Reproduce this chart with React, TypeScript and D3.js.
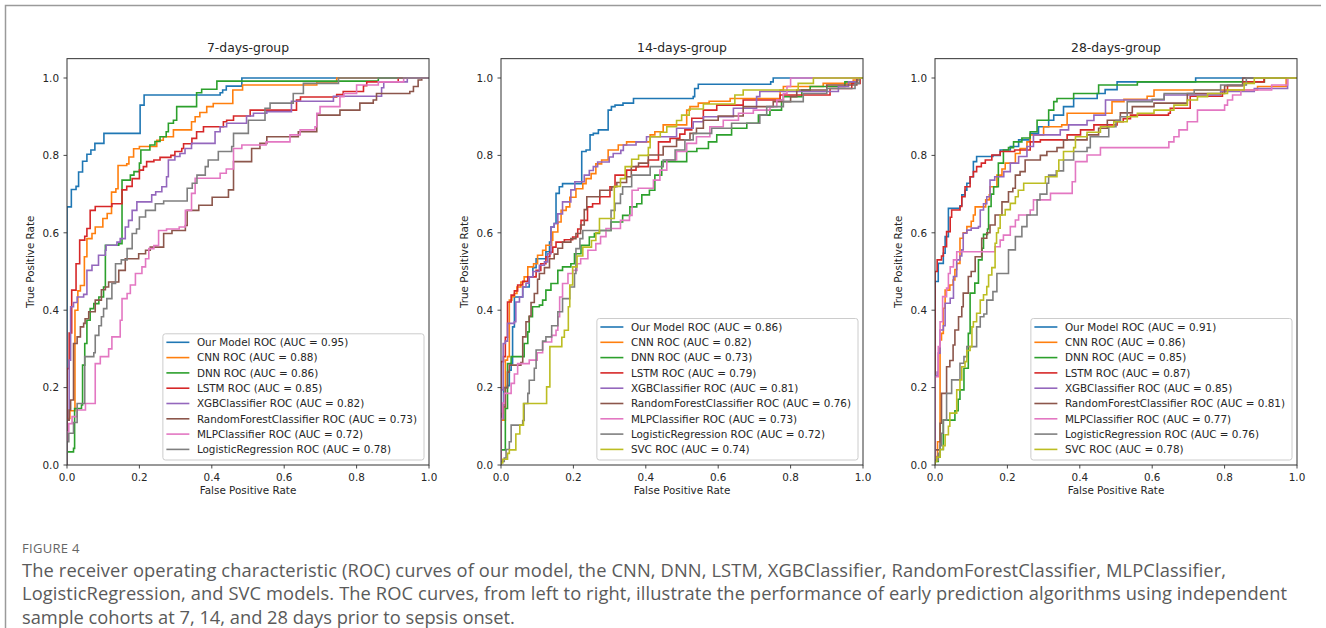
import React from 'react';
import * as d3 from 'd3';

type Pt = [number, number];

const groups = ['7-days-group', '14-days-group', '28-days-group'];
const models = ['Our Model', 'CNN', 'DNN', 'LSTM', 'XGBClassifier', 'RandomForestClassifier', 'MLPClassifier', 'LogisticRegression', 'SVC'];
const colors = ['#1f77b4', '#ff7f0e', '#2ca02c', '#d62728', '#9467bd', '#8c564b', '#e377c2', '#7f7f7f', '#bcbd22'];
const auc7 = [0.95, 0.88, 0.86, 0.85, 0.82, 0.73, 0.72, 0.78];
const auc14 = [0.86, 0.82, 0.73, 0.79, 0.81, 0.76, 0.73, 0.72, 0.74];
const auc28 = [0.91, 0.86, 0.85, 0.87, 0.85, 0.81, 0.77, 0.76, 0.78];
const tickValues = [0, 0.2, 0.4, 0.6, 0.8, 1.0];

// [fpr, tpr] corners, 7 days
const ours7: Pt[] = [[0,0],[0,0.667],[0.012,0.712],[0.025,0.72],[0.032,0.757],[0.043,0.785],[0.055,0.803],[0.066,0.814],[0.077,0.831],[0.102,0.857],[0.202,0.93],[0.213,0.956],[0.423,0.962],[0.43,0.969],[0.44,0.979],[0.483,1],[1,1]];
const cnn7: Pt[] = [[0,0],[0,0.12],[0.008,0.14],[0.022,0.4],[0.03,0.45],[0.037,0.464],[0.048,0.538],[0.055,0.585],[0.069,0.598],[0.078,0.615],[0.099,0.637],[0.111,0.65],[0.123,0.705],[0.135,0.714],[0.141,0.774],[0.165,0.778],[0.171,0.796],[0.184,0.817],[0.2,0.823],[0.248,0.839],[0.266,0.848],[0.294,0.866],[0.344,0.887],[0.354,0.9],[0.367,0.911],[0.386,0.926],[0.404,0.934],[0.458,0.969],[0.485,0.982],[0.69,0.99],[0.745,1],[1,1]];
const dnn7: Pt[] = [[0,0],[0,0.034],[0.018,0.043],[0.021,0.146],[0.04,0.155],[0.043,0.258],[0.049,0.314],[0.055,0.374],[0.064,0.404],[0.074,0.417],[0.088,0.434],[0.101,0.46],[0.106,0.568],[0.143,0.572],[0.152,0.736],[0.175,0.749],[0.185,0.758],[0.2,0.78],[0.204,0.814],[0.229,0.827],[0.243,0.836],[0.257,0.848],[0.274,0.861],[0.28,0.883],[0.294,0.891],[0.303,0.926],[0.358,0.962],[0.372,0.971],[0.414,0.992],[0.86,1],[1,1]];
const lstm7: Pt[] = [[0,0],[0,0.249],[0.006,0.341],[0.013,0.452],[0.025,0.52],[0.035,0.581],[0.049,0.591],[0.055,0.611],[0.064,0.658],[0.078,0.668],[0.124,0.675],[0.152,0.711],[0.165,0.72],[0.18,0.74],[0.2,0.762],[0.211,0.771],[0.22,0.784],[0.24,0.788],[0.257,0.795],[0.287,0.8],[0.298,0.81],[0.317,0.818],[0.322,0.83],[0.345,0.844],[0.358,0.861],[0.377,0.874],[0.432,0.887],[0.441,0.891],[0.46,0.902],[0.506,0.917],[0.634,0.943],[0.645,0.951],[0.745,0.957],[0.763,0.965],[0.819,0.98],[0.828,0.99],[0.915,1],[1,1]];
const xgb7: Pt[] = [[0,0],[0,0.116],[0.006,0.271],[0.01,0.409],[0.018,0.42],[0.028,0.434],[0.046,0.441],[0.055,0.503],[0.069,0.516],[0.087,0.542],[0.106,0.555],[0.108,0.568],[0.138,0.576],[0.147,0.585],[0.161,0.615],[0.17,0.632],[0.18,0.658],[0.193,0.68],[0.234,0.698],[0.245,0.706],[0.262,0.719],[0.275,0.745],[0.28,0.788],[0.298,0.797],[0.312,0.805],[0.326,0.818],[0.344,0.831],[0.409,0.861],[0.423,0.874],[0.441,0.883],[0.496,0.902],[0.515,0.909],[0.552,0.913],[0.62,0.94],[0.736,0.953],[0.869,0.975],[0.875,0.99],[0.94,1],[1,1]];
const rf7: Pt[] = [[0,0],[0,0.116],[0.006,0.142],[0.01,0.168],[0.018,0.314],[0.028,0.331],[0.037,0.357],[0.046,0.366],[0.05,0.378],[0.06,0.396],[0.078,0.426],[0.095,0.453],[0.106,0.46],[0.115,0.473],[0.143,0.503],[0.161,0.533],[0.198,0.546],[0.217,0.555],[0.23,0.563],[0.267,0.598],[0.29,0.606],[0.327,0.619],[0.332,0.658],[0.364,0.671],[0.401,0.692],[0.446,0.711],[0.46,0.784],[0.51,0.818],[0.533,0.831],[0.552,0.848],[0.639,0.861],[0.69,0.904],[0.754,0.917],[0.809,0.935],[0.846,0.943],[0.855,0.96],[0.947,0.965],[0.957,0.978],[0.97,0.995],[0.98,1],[1,1]];
const mlp7: Pt[] = [[0,0],[0,0.086],[0.005,0.107],[0.014,0.125],[0.028,0.142],[0.051,0.159],[0.078,0.262],[0.092,0.28],[0.115,0.3],[0.124,0.331],[0.147,0.374],[0.152,0.43],[0.166,0.443],[0.175,0.465],[0.189,0.495],[0.207,0.512],[0.217,0.533],[0.226,0.559],[0.24,0.567],[0.253,0.606],[0.275,0.61],[0.31,0.615],[0.327,0.658],[0.344,0.702],[0.354,0.741],[0.423,0.754],[0.44,0.765],[0.46,0.818],[0.483,0.827],[0.55,0.835],[0.616,0.853],[0.644,0.866],[0.685,0.874],[0.69,0.909],[0.699,0.926],[0.754,0.952],[0.765,0.96],[0.8,0.982],[0.86,0.99],[0.93,1],[1,1]];
const lr7: Pt[] = [[0,0],[0,0.06],[0.005,0.082],[0.018,0.11],[0.028,0.159],[0.049,0.28],[0.074,0.29],[0.078,0.335],[0.088,0.36],[0.095,0.383],[0.101,0.404],[0.11,0.43],[0.124,0.469],[0.134,0.52],[0.15,0.53],[0.166,0.559],[0.18,0.598],[0.192,0.61],[0.2,0.641],[0.217,0.658],[0.244,0.675],[0.267,0.682],[0.332,0.715],[0.346,0.728],[0.359,0.749],[0.382,0.771],[0.39,0.788],[0.418,0.81],[0.455,0.823],[0.46,0.857],[0.501,0.891],[0.547,0.922],[0.561,0.935],[0.625,0.96],[0.653,0.986],[0.75,1],[1,1]];

// 14 days
const ours14: Pt[] = [[0,0],[0,0.116],[0.007,0.2],[0.018,0.205],[0.023,0.245],[0.028,0.262],[0.032,0.357],[0.037,0.434],[0.06,0.46],[0.078,0.486],[0.088,0.51],[0.097,0.533],[0.124,0.551],[0.134,0.576],[0.138,0.615],[0.147,0.624],[0.152,0.702],[0.161,0.719],[0.17,0.727],[0.223,0.81],[0.235,0.814],[0.246,0.853],[0.255,0.857],[0.269,0.866],[0.296,0.917],[0.305,0.926],[0.315,0.93],[0.337,0.935],[0.366,0.947],[0.531,0.952],[0.535,0.973],[0.545,0.984],[0.745,0.99],[0.752,1],[1,1]];
const cnn14: Pt[] = [[0,0],[0,0.116],[0.012,0.271],[0.018,0.28],[0.023,0.426],[0.03,0.435],[0.037,0.443],[0.044,0.46],[0.055,0.473],[0.064,0.486],[0.074,0.512],[0.09,0.52],[0.101,0.542],[0.115,0.555],[0.124,0.568],[0.14,0.581],[0.143,0.602],[0.157,0.628],[0.166,0.658],[0.18,0.667],[0.19,0.692],[0.207,0.714],[0.226,0.727],[0.235,0.74],[0.249,0.753],[0.262,0.778],[0.278,0.788],[0.296,0.814],[0.324,0.827],[0.347,0.835],[0.412,0.853],[0.425,0.861],[0.448,0.879],[0.513,0.917],[0.522,0.926],[0.545,0.935],[0.575,0.94],[0.633,0.947],[0.771,0.969],[0.78,0.978],[0.89,0.986],[0.973,0.995],[0.99,1],[1,1]];
const dnn14: Pt[] = [[0,0],[0,0.039],[0.012,0.146],[0.018,0.262],[0.028,0.28],[0.064,0.314],[0.074,0.344],[0.078,0.383],[0.087,0.409],[0.106,0.413],[0.115,0.426],[0.124,0.452],[0.138,0.469],[0.157,0.503],[0.17,0.512],[0.193,0.52],[0.203,0.546],[0.221,0.568],[0.244,0.589],[0.258,0.598],[0.272,0.606],[0.304,0.628],[0.336,0.645],[0.356,0.667],[0.375,0.675],[0.389,0.698],[0.41,0.71],[0.425,0.749],[0.444,0.784],[0.513,0.81],[0.541,0.818],[0.573,0.835],[0.596,0.853],[0.637,0.87],[0.679,0.883],[0.711,0.904],[0.743,0.917],[0.775,0.943],[0.78,0.952],[0.831,0.969],[0.854,0.978],[0.95,0.99],[0.983,1],[1,1]];
const lstm14: Pt[] = [[0,0],[0,0.267],[0.007,0.28],[0.012,0.33],[0.018,0.421],[0.028,0.439],[0.037,0.45],[0.046,0.465],[0.06,0.475],[0.074,0.486],[0.097,0.503],[0.11,0.52],[0.124,0.538],[0.135,0.55],[0.143,0.563],[0.152,0.576],[0.175,0.582],[0.198,0.589],[0.212,0.61],[0.221,0.632],[0.239,0.667],[0.253,0.675],[0.273,0.693],[0.301,0.719],[0.315,0.749],[0.347,0.762],[0.373,0.771],[0.407,0.788],[0.435,0.835],[0.467,0.844],[0.494,0.855],[0.508,0.866],[0.527,0.896],[0.559,0.917],[0.596,0.93],[0.669,0.943],[0.771,0.956],[0.909,0.973],[0.969,0.986],[0.992,1],[1,1]];
const xgb14: Pt[] = [[0,0],[0,0.194],[0.006,0.314],[0.012,0.32],[0.018,0.366],[0.037,0.37],[0.041,0.421],[0.051,0.434],[0.06,0.46],[0.069,0.47],[0.078,0.486],[0.088,0.5],[0.106,0.516],[0.12,0.525],[0.129,0.546],[0.138,0.615],[0.147,0.624],[0.157,0.649],[0.17,0.68],[0.193,0.711],[0.204,0.732],[0.23,0.749],[0.244,0.761],[0.255,0.771],[0.267,0.783],[0.299,0.796],[0.31,0.805],[0.331,0.813],[0.338,0.827],[0.373,0.835],[0.402,0.848],[0.485,0.87],[0.531,0.887],[0.559,0.9],[0.642,0.922],[0.706,0.952],[0.715,0.965],[0.932,0.978],[0.96,0.99],[0.983,1],[1,1]];
const rf14: Pt[] = [[0,0],[0,0.133],[0.006,0.15],[0.012,0.2],[0.018,0.24],[0.023,0.258],[0.055,0.265],[0.06,0.331],[0.069,0.37],[0.078,0.385],[0.083,0.42],[0.092,0.443],[0.101,0.48],[0.106,0.495],[0.12,0.51],[0.134,0.533],[0.147,0.545],[0.157,0.56],[0.17,0.576],[0.193,0.585],[0.207,0.598],[0.22,0.62],[0.23,0.66],[0.237,0.693],[0.273,0.71],[0.306,0.719],[0.32,0.73],[0.347,0.745],[0.36,0.771],[0.38,0.78],[0.407,0.801],[0.448,0.823],[0.485,0.84],[0.522,0.857],[0.54,0.87],[0.559,0.891],[0.6,0.902],[0.669,0.926],[0.752,0.939],[0.8,0.952],[0.817,0.969],[0.9,0.982],[0.983,1],[1,1]];
const mlp14: Pt[] = [[0,0],[0,0.12],[0.005,0.16],[0.009,0.185],[0.028,0.211],[0.037,0.235],[0.046,0.262],[0.078,0.271],[0.1,0.29],[0.115,0.318],[0.14,0.335],[0.152,0.348],[0.157,0.383],[0.162,0.434],[0.17,0.469],[0.185,0.495],[0.198,0.503],[0.21,0.52],[0.22,0.533],[0.24,0.555],[0.262,0.572],[0.275,0.59],[0.29,0.611],[0.33,0.632],[0.355,0.645],[0.362,0.71],[0.379,0.715],[0.421,0.736],[0.439,0.762],[0.458,0.788],[0.485,0.81],[0.513,0.831],[0.54,0.848],[0.577,0.874],[0.614,0.891],[0.656,0.909],[0.697,0.917],[0.743,0.926],[0.762,0.943],[0.78,0.96],[0.79,0.978],[0.8,1],[1,1]];
const lr14: Pt[] = [[0,0],[0,0.009],[0.009,0.018],[0.014,0.04],[0.023,0.06],[0.028,0.103],[0.06,0.115],[0.064,0.159],[0.074,0.185],[0.078,0.219],[0.092,0.25],[0.097,0.297],[0.115,0.32],[0.124,0.331],[0.14,0.36],[0.157,0.396],[0.17,0.43],[0.19,0.46],[0.203,0.495],[0.207,0.559],[0.218,0.585],[0.226,0.606],[0.304,0.658],[0.315,0.676],[0.33,0.7],[0.336,0.719],[0.361,0.749],[0.412,0.771],[0.448,0.788],[0.481,0.814],[0.508,0.84],[0.531,0.857],[0.582,0.87],[0.637,0.883],[0.715,0.904],[0.734,0.926],[0.78,0.939],[0.835,0.96],[0.9,0.973],[0.978,0.986],[0.99,1],[1,1]];
const svc14: Pt[] = [[0,0],[0,0.005],[0.005,0.015],[0.018,0.03],[0.023,0.039],[0.041,0.08],[0.052,0.103],[0.062,0.159],[0.126,0.202],[0.135,0.306],[0.168,0.33],[0.175,0.348],[0.186,0.409],[0.19,0.465],[0.198,0.512],[0.21,0.54],[0.226,0.563],[0.25,0.58],[0.262,0.6],[0.272,0.637],[0.313,0.72],[0.33,0.74],[0.343,0.771],[0.361,0.79],[0.38,0.8],[0.407,0.82],[0.412,0.848],[0.44,0.86],[0.458,0.874],[0.485,0.89],[0.499,0.904],[0.52,0.92],[0.559,0.933],[0.646,0.956],[0.669,0.969],[0.821,0.986],[0.863,1],[1,1]];

// 28 days
const ours28: Pt[] = [[0,0],[0,0.474],[0.009,0.521],[0.023,0.547],[0.028,0.59],[0.037,0.663],[0.069,0.67],[0.074,0.698],[0.083,0.71],[0.088,0.728],[0.097,0.745],[0.106,0.784],[0.115,0.797],[0.16,0.8],[0.18,0.814],[0.208,0.823],[0.231,0.84],[0.263,0.857],[0.286,0.874],[0.314,0.891],[0.328,0.904],[0.355,0.926],[0.383,0.947],[0.448,0.96],[0.47,0.97],[0.503,0.99],[0.72,1],[1,1]];
const cnn28: Pt[] = [[0,0],[0,0.022],[0.007,0.06],[0.014,0.323],[0.018,0.34],[0.023,0.405],[0.028,0.452],[0.041,0.465],[0.05,0.478],[0.055,0.505],[0.06,0.521],[0.069,0.586],[0.078,0.6],[0.088,0.616],[0.1,0.63],[0.106,0.646],[0.111,0.667],[0.14,0.685],[0.15,0.698],[0.152,0.719],[0.171,0.749],[0.185,0.765],[0.194,0.78],[0.222,0.805],[0.235,0.818],[0.254,0.835],[0.263,0.853],[0.3,0.874],[0.35,0.879],[0.365,0.909],[0.489,0.939],[0.522,0.945],[0.586,0.953],[0.605,0.969],[0.891,0.978],[0.97,1],[1,1]];
const dnn28: Pt[] = [[0,0],[0,0.009],[0.009,0.02],[0.014,0.04],[0.023,0.116],[0.055,0.14],[0.064,0.17],[0.069,0.194],[0.08,0.25],[0.092,0.34],[0.097,0.444],[0.11,0.47],[0.12,0.53],[0.13,0.56],[0.134,0.596],[0.145,0.61],[0.148,0.668],[0.155,0.7],[0.162,0.719],[0.175,0.78],[0.189,0.814],[0.203,0.82],[0.217,0.835],[0.24,0.845],[0.263,0.861],[0.282,0.891],[0.314,0.917],[0.328,0.939],[0.337,0.947],[0.383,0.96],[0.452,0.982],[0.559,0.99],[0.91,1],[1,1]];
const lstm28: Pt[] = [[0,0],[0,0.5],[0.006,0.53],[0.018,0.54],[0.023,0.564],[0.032,0.603],[0.042,0.64],[0.046,0.659],[0.069,0.668],[0.074,0.693],[0.083,0.719],[0.097,0.745],[0.106,0.758],[0.115,0.771],[0.128,0.78],[0.139,0.788],[0.157,0.801],[0.18,0.81],[0.22,0.814],[0.263,0.835],[0.291,0.84],[0.365,0.853],[0.402,0.866],[0.439,0.879],[0.503,0.887],[0.52,0.895],[0.54,0.904],[0.645,0.909],[0.65,0.922],[0.705,0.953],[0.794,0.965],[0.808,0.981],[0.85,0.99],[0.909,1],[1,1]];
const xgb28: Pt[] = [[0,0],[0,0.23],[0.006,0.24],[0.009,0.289],[0.014,0.349],[0.023,0.36],[0.028,0.418],[0.042,0.431],[0.051,0.487],[0.06,0.53],[0.069,0.54],[0.074,0.556],[0.078,0.599],[0.088,0.607],[0.1,0.612],[0.12,0.616],[0.125,0.659],[0.134,0.675],[0.143,0.693],[0.152,0.736],[0.165,0.745],[0.19,0.758],[0.208,0.78],[0.231,0.797],[0.254,0.823],[0.272,0.853],[0.346,0.866],[0.369,0.879],[0.42,0.89],[0.439,0.904],[0.471,0.943],[0.633,0.956],[0.789,0.965],[0.882,0.973],[0.974,1],[1,1]];
const rf28: Pt[] = [[0,0],[0,0.039],[0.014,0.108],[0.018,0.185],[0.032,0.254],[0.041,0.27],[0.05,0.31],[0.055,0.349],[0.065,0.383],[0.074,0.409],[0.078,0.444],[0.092,0.487],[0.1,0.5],[0.111,0.538],[0.129,0.586],[0.143,0.6],[0.152,0.62],[0.166,0.646],[0.185,0.68],[0.203,0.706],[0.215,0.715],[0.222,0.749],[0.235,0.758],[0.249,0.788],[0.291,0.8],[0.309,0.81],[0.337,0.82],[0.355,0.84],[0.42,0.853],[0.452,0.87],[0.476,0.891],[0.512,0.91],[0.545,0.926],[0.605,0.935],[0.697,0.96],[0.8,0.98],[0.85,1],[1,1]];
const mlp28: Pt[] = [[0,0],[0,0.228],[0.009,0.306],[0.014,0.37],[0.021,0.435],[0.032,0.457],[0.037,0.495],[0.042,0.512],[0.051,0.53],[0.06,0.551],[0.166,0.564],[0.18,0.581],[0.189,0.594],[0.208,0.616],[0.222,0.633],[0.231,0.646],[0.263,0.659],[0.272,0.685],[0.319,0.702],[0.379,0.732],[0.388,0.784],[0.42,0.801],[0.457,0.82],[0.646,0.835],[0.66,0.848],[0.674,0.866],[0.697,0.887],[0.725,0.917],[0.8,0.93],[0.808,0.943],[0.822,0.956],[0.845,0.969],[0.93,0.982],[0.974,1],[1,1]];
const lr28: Pt[] = [[0,0],[0,0.013],[0.009,0.03],[0.014,0.05],[0.018,0.082],[0.023,0.116],[0.032,0.185],[0.046,0.22],[0.069,0.263],[0.08,0.28],[0.088,0.306],[0.115,0.357],[0.125,0.383],[0.135,0.39],[0.143,0.426],[0.16,0.448],[0.171,0.495],[0.203,0.556],[0.222,0.59],[0.24,0.616],[0.254,0.646],[0.282,0.685],[0.29,0.7],[0.309,0.728],[0.314,0.749],[0.335,0.76],[0.355,0.788],[0.383,0.81],[0.42,0.82],[0.429,0.848],[0.48,0.874],[0.5,0.89],[0.512,0.9],[0.531,0.939],[0.6,0.945],[0.633,0.96],[0.716,0.969],[0.789,0.982],[0.86,1],[1,1]];
const svc28: Pt[] = [[0,0],[0,0.009],[0.005,0.02],[0.014,0.04],[0.023,0.05],[0.028,0.078],[0.037,0.1],[0.041,0.134],[0.06,0.194],[0.069,0.22],[0.074,0.254],[0.083,0.267],[0.088,0.296],[0.097,0.306],[0.102,0.357],[0.106,0.37],[0.115,0.392],[0.125,0.426],[0.134,0.44],[0.143,0.461],[0.148,0.491],[0.157,0.51],[0.166,0.573],[0.17,0.6],[0.175,0.612],[0.18,0.646],[0.194,0.66],[0.208,0.676],[0.222,0.693],[0.23,0.71],[0.245,0.728],[0.305,0.745],[0.337,0.76],[0.342,0.788],[0.355,0.81],[0.383,0.82],[0.388,0.848],[0.42,0.86],[0.457,0.874],[0.494,0.887],[0.531,0.9],[0.559,0.909],[0.605,0.917],[0.66,0.93],[0.697,0.943],[0.725,0.952],[0.753,0.96],[0.808,0.969],[0.854,0.986],[0.882,1],[1,1]];

const curves7 = [ours7, cnn7, dnn7, lstm7, xgb7, rf7, mlp7, lr7];
const curves14 = [ours14, cnn14, dnn14, lstm14, xgb14, rf14, mlp14, lr14, svc14];
const curves28 = [ours28, cnn28, dnn28, lstm28, xgb28, rf28, mlp28, lr28, svc28];

const figLabel = 'FIGURE 4';
const captionLines = [
  'The receiver operating characteristic (ROC) curves of our model, the CNN, DNN, LSTM, XGBClassifier, RandomForestClassifier, MLPClassifier,',
  'LogisticRegression, and SVC models. The ROC curves, from left to right, illustrate the performance of early prediction algorithms using independent',
  'sample cohorts at 7, 14, and 28 days prior to sepsis onset.',
];
// measured line widths of the caption in the picture
const captionWidths = [1204, 1265, 0];

const panels = [
  { title: groups[0], curves: curves7, aucs: auc7 },
  { title: groups[1], curves: curves14, aucs: auc14 },
  { title: groups[2], curves: curves28, aucs: auc28 },
];

const MPL = '"DejaVu Sans", sans-serif';
const FS = 10.4;
const AX_TOP = 58.65;
const AX_BOTTOM = 465;

let ctx: CanvasRenderingContext2D | null = null;
function measure(text: string, size: number) {
  if (!ctx) ctx = document.createElement('canvas').getContext('2d');
  if (!ctx) return text.length * size * 0.55;
  ctx.font = `${size}px "DejaVu Sans"`;
  return ctx.measureText(text).width;
}

function Panel({ index, title, curves, aucs }: { index: number; title: string; curves: Pt[][]; aucs: number[] }) {
  const left = 67 + index * 434;
  const x = d3.scaleLinear().domain([0, 1]).range([left, left + 362]);
  const y = d3.scaleLinear().domain([0, 1.05]).range([AX_BOTTOM, AX_TOP]);
  const line = d3.line<Pt>().x(d => x(d[0])).y(d => y(d[1])).curve(d3.curveStepAfter);
  const fmt = d3.format('.1f');
  const clipId = 'clip' + index;

  const labels = curves.map((_, i) => `${models[i]} ROC (AUC = ${aucs[i].toFixed(2)})`);
  const textW = Math.max(...labels.map(l => measure(l, FS)));
  const rowH = 15.3;
  const boxH = labels.length * rowH + 3.8;
  const boxW = textW + 41;
  const boxRight = x(1) - 5;
  const boxBottom = y(0) - 5;
  const boxLeft = boxRight - boxW;
  const boxTop = boxBottom - boxH;

  return (
    <g>
      <clipPath id={clipId}>
        <rect x={x(0)} y={AX_TOP} width={x(1) - x(0)} height={AX_BOTTOM - AX_TOP} />
      </clipPath>
      <g clipPath={`url(#${clipId})`}>
        {curves.map((c, i) => (
          <path key={i} d={line(c) || ''} fill="none" stroke={colors[i]} strokeWidth={1.6} strokeLinejoin="miter" />
        ))}
      </g>
      <rect x={x(0)} y={AX_TOP} width={x(1) - x(0)} height={AX_BOTTOM - AX_TOP} fill="none" stroke="#333" strokeWidth={1} />
      {tickValues.map(t => (
        <g key={'x' + t}>
          <line x1={x(t)} x2={x(t)} y1={AX_BOTTOM} y2={AX_BOTTOM + 3.5} stroke="#333" strokeWidth={0.9} />
          <text x={x(t)} y={AX_BOTTOM + 15.5} textAnchor="middle" fontSize={FS} fill="#262626">{fmt(t)}</text>
        </g>
      ))}
      {tickValues.map(t => (
        <g key={'y' + t}>
          <line x1={x(0) - 3.5} x2={x(0)} y1={y(t)} y2={y(t)} stroke="#333" strokeWidth={0.9} />
          <text x={x(0) - 8} y={y(t)} dy="0.36em" textAnchor="end" fontSize={FS} fill="#262626">{fmt(t)}</text>
        </g>
      ))}
      <text x={(x(0) + x(1)) / 2} y={AX_TOP - 6.3} textAnchor="middle" fontSize={12.4} fill="#262626">{title}</text>
      <text x={(x(0) + x(1)) / 2} y={AX_BOTTOM + 29} textAnchor="middle" fontSize={FS} fill="#262626">False Positive Rate</text>
      <text transform={`translate(${x(0) - 37},${(AX_TOP + AX_BOTTOM) / 2}) rotate(-90)`} dy="0.36em" textAnchor="middle" fontSize={FS} fill="#262626">True Positive Rate</text>
      <rect x={boxLeft} y={boxTop} width={boxW} height={boxH} rx={2.5} fill="#fff" fillOpacity={0.8} stroke="#cccccc" strokeWidth={1} />
      {labels.map((l, i) => {
        const cy = boxTop + 8.5 + i * rowH;
        return (
          <g key={l}>
            <line x1={boxLeft + 3.5} x2={boxLeft + 26.5} y1={cy} y2={cy} stroke={colors[i]} strokeWidth={1.6} />
            <text x={boxLeft + 34} y={cy} dy="0.36em" fontSize={FS} fill="#262626">{l}</text>
          </g>
        );
      })}
    </g>
  );
}

export default function App() {
  return (
    <svg width={1326} height={628} style={{ position: 'absolute', left: 0, top: 0 }} fontFamily={MPL}>
      <rect width={1326} height={628} fill="#fff" />
      <path d="M5.5,628 V5.5 H1321" fill="none" stroke="#9a9a9a" strokeWidth={1.5} />
      {panels.map((p, i) => (
        <Panel key={i} index={i} title={p.title} curves={p.curves} aucs={p.aucs} />
      ))}
      <text x={22} y={553} fontFamily='"Open Sans", sans-serif' fontSize={13} fill="#666" letterSpacing={0.3}>{figLabel}</text>
      {captionLines.map((l, i) => (
        <text
          key={i}
          x={22}
          y={576.5 + i * 23.5}
          fontFamily='"Open Sans", sans-serif'
          fontSize={18.3}
          fill="#5a5a5a"
          {...(captionWidths[i] ? { textLength: captionWidths[i], lengthAdjust: 'spacing' } : {})}
        >
          {l}
        </text>
      ))}
    </svg>
  );
}
